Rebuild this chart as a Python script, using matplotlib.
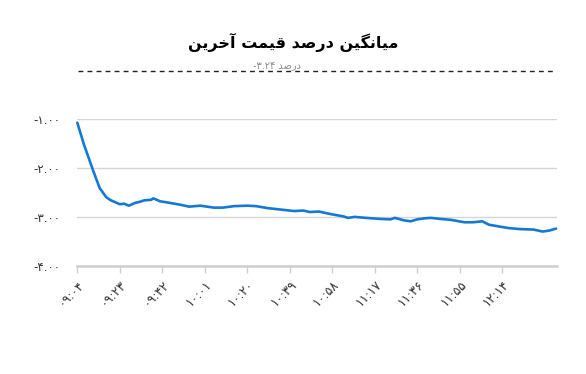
import matplotlib
matplotlib.use("Agg")
import matplotlib.pyplot as plt
from matplotlib.lines import Line2D

# minutes after 09:04 and average last-price change (%)
minutes = [0, 3, 7, 10, 13, 15, 17, 19, 21, 23, 26, 28, 30, 33, 34, 37, 41, 46, 50, 55,
           58, 61, 65, 70, 76, 80, 85, 91, 97, 101, 104, 108, 113, 119, 121, 124, 129,
           135, 140, 142, 146, 149, 152, 155, 158, 162, 167, 173, 177, 181, 184, 189,
           193, 198, 204, 208, 211, 214]
values = [-1.07, -1.52, -2.04, -2.41, -2.60, -2.66, -2.70, -2.74, -2.73, -2.77, -2.71,
          -2.69, -2.66, -2.65, -2.62, -2.68, -2.71, -2.75, -2.79, -2.77, -2.79, -2.81,
          -2.81, -2.78, -2.77, -2.78, -2.82, -2.85, -2.88, -2.87, -2.90, -2.89, -2.94,
          -2.99, -3.02, -3.00, -3.02, -3.04, -3.05, -3.02, -3.07, -3.09, -3.05, -3.03,
          -3.02, -3.04, -3.06, -3.11, -3.11, -3.09, -3.16, -3.20, -3.23, -3.25, -3.26,
          -3.30, -3.28, -3.24]
tick_labels = ["09:04", "09:23", "09:42", "10:01", "10:20", "10:39",
               "10:58", "11:17", "11:36", "11:55", "12:14"]
y_ticks = [-1, -2, -3, -4]
title = "میانگین درصد قیمت آخرین"
average = -3.24

FA_DIGITS = str.maketrans("0123456789", "۰۱۲۳۴۵۶۷۸۹")

# (isolated, final, initial, medial) presentation forms
FORMS = {
    'ا': ('\uFE8D', '\uFE8E', None, None),
    'آ': ('\uFE81', '\uFE82', None, None),
    'د': ('\uFEA9', '\uFEAA', None, None),
    'ر': ('\uFEAD', '\uFEAE', None, None),
    'م': ('\uFEE1', '\uFEE2', '\uFEE3', '\uFEE4'),
    'ن': ('\uFEE5', '\uFEE6', '\uFEE7', '\uFEE8'),
    'ی': ('\uFBFC', '\uFBFD', '\uFBFE', '\uFBFF'),
    'گ': ('\uFB92', '\uFB93', '\uFB94', '\uFB95'),
    'ص': ('\uFEB9', '\uFEBA', '\uFEBB', '\uFEBC'),
    'ق': ('\uFED5', '\uFED6', '\uFED7', '\uFED8'),
    'ت': ('\uFE95', '\uFE96', '\uFE97', '\uFE98'),
    'خ': ('\uFEA5', '\uFEA6', '\uFEA7', '\uFEA8'),
}


def shape(text):
    """very small persian shaper, returns visual (left-to-right) order"""
    out = []
    for i, ch in enumerate(text):
        if ch not in FORMS:
            out.append(ch)
            continue
        prev = text[i - 1] if i > 0 else None
        nxt = text[i + 1] if i + 1 < len(text) else None
        jp = prev in FORMS and FORMS[prev][2] is not None
        jn = nxt in FORMS and FORMS[ch][2] is not None
        iso, fin, ini, med = FORMS[ch]
        if jp and jn:
            out.append(med)
        elif jp:
            out.append(fin)
        elif jn:
            out.append(ini)
        else:
            out.append(iso)
    return "".join(out)[::-1]


W, H = 586, 374
fig = plt.figure(figsize=(W / 100, H / 100), dpi=100)
ax = fig.add_axes([77.3 / W, 1 - 265.7 / H, (556.7 - 77.3) / W, (265.7 - 119.3) / H])

ax.plot(minutes, values, color="#1479d4", lw=1.9, solid_capstyle="round", clip_on=False)

ax.set_xlim(0, 214.3)
ax.set_ylim(-4, -1)
ax.set_yticks(y_ticks)
ax.set_yticklabels([("-%.2f" % abs(v)).translate(FA_DIGITS) for v in y_ticks])
ax.set_xticks(range(0, 19 * len(tick_labels), 19))
ax.set_xticklabels([t.translate(FA_DIGITS) for t in tick_labels],
                   rotation=45, ha="right", rotation_mode="anchor")

for s in ["top", "right", "left"]:
    ax.spines[s].set_visible(False)
ax.spines["bottom"].set_color("#cfcfcf")
ax.spines["bottom"].set_linewidth(1.8)
ax.grid(axis="y", color="#d6d6d6", lw=1)
ax.set_axisbelow(True)
ax.tick_params(axis="y", length=0, pad=12, labelsize=8.5, labelcolor="#333333")
ax.tick_params(axis="x", length=5, width=1, color="#cfcfcf", pad=4,
               labelsize=9, labelcolor="#333333")

fig.text(293 / W, 1 - 42 / H, shape(title), ha="center", va="center",
         fontsize=11.5, fontweight="bold", family="DejaVu Sans")
fig.add_artist(Line2D([78 / W, 556 / W], [1 - 71 / H, 1 - 71 / H], color="#222222",
                      lw=1, linestyle=(0, (3.5, 3))))
fig.text(277 / W, 1 - 66 / H,
         ("%.2f" % average).translate(FA_DIGITS) + " " + shape("درصد"),
         ha="center", va="center", fontsize=7, color="#8a8a8a")

fig.savefig("out.png", dpi=100)
